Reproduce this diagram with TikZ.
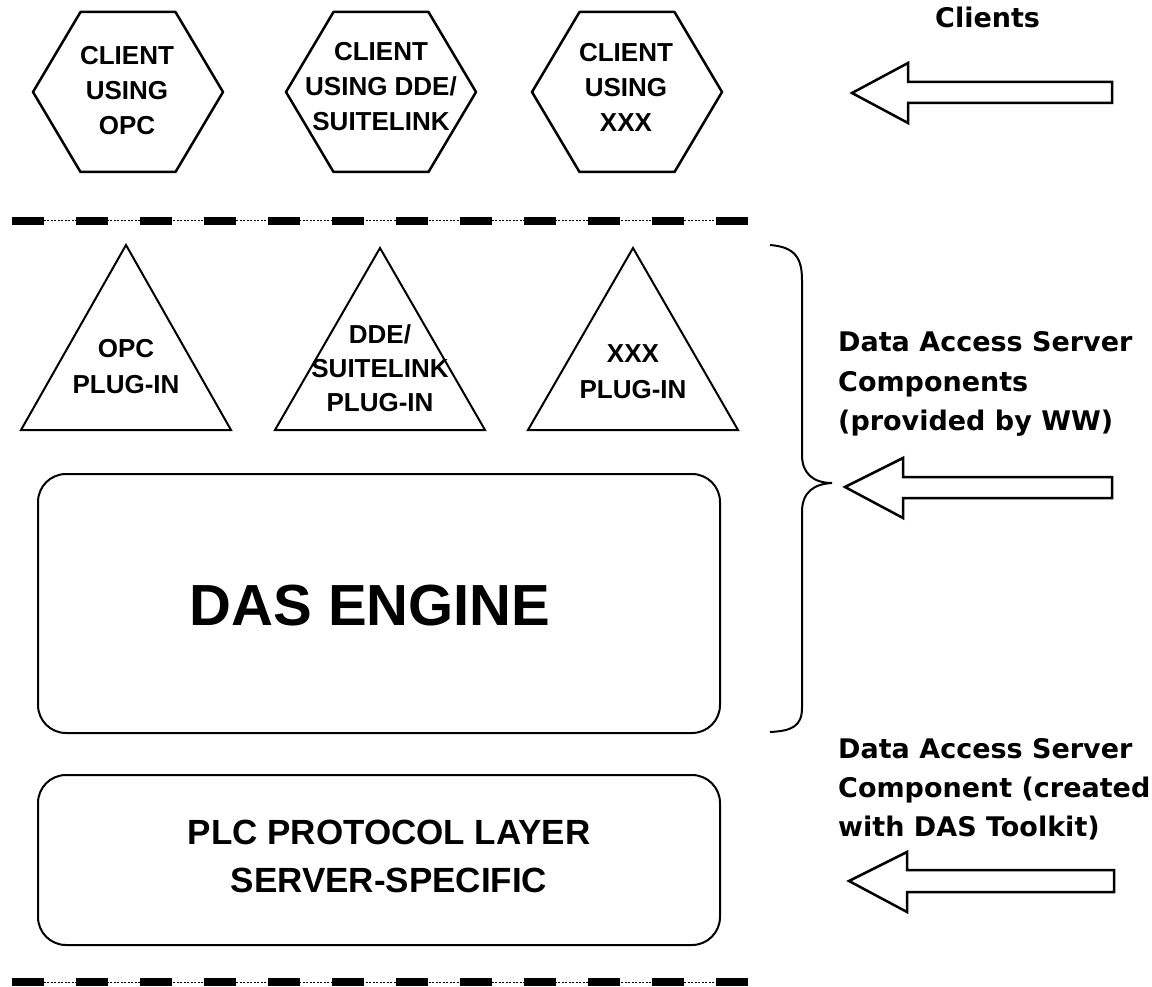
\documentclass[tikz,border=0pt]{standalone}
\usepackage{fontspec}
\setmainfont{Liberation Sans}
\newfontfamily\dvs{DejaVu Sans}
\begin{document}
\begin{tikzpicture}[x=1pt,y=-1pt,
  outline/.style={draw=black,line width=2.5pt,line join=round},
  thinout/.style={draw=black,line width=2pt},
  hexlbl/.style={font=\bfseries\fontsize{26}{35}\selectfont,align=center,inner sep=0pt},
  trilbl/.style={font=\bfseries\fontsize{26}{36}\selectfont,align=center,inner sep=0pt},
  biglbl/.style={font=\bfseries\fontsize{58}{60}\selectfont,inner sep=0pt},
  plclbl/.style={font=\bfseries\fontsize{35}{48}\selectfont,align=center,inner sep=0pt},
  side/.style={font=\dvs\bfseries\fontsize{27}{39}\selectfont,anchor=base west,inner sep=0pt},
  blockarrow/.style={draw=black,fill=white,line width=2.5pt,line join=miter},
  thickdash/.style={fill=black},
  thinline/.style={draw=black,line width=1pt,dash pattern=on 2pt off 1.5pt}]
\useasboundingbox (0,0) rectangle (1152,987);

% hexagons
\foreach \cx/\cy in {128/92,381/92,627/92}{
  \draw[outline] (\cx-95,\cy) -- (\cx-47.5,\cy-80) -- (\cx+47.5,\cy-80) -- (\cx+95,\cy) -- (\cx+47.5,\cy+80) -- (\cx-47.5,\cy+80) -- cycle;
}
\node[hexlbl] (c1) at (127,91) {CLIENT\\USING\\OPC};
\node[hexlbl] (c2) at (381,87) {CLIENT\\USING DDE/\\SUITELINK};
\node[hexlbl] (c3) at (626,87) {CLIENT\\USING\\XXX};

\node[side] (clients) at (935,28) {Clients};
\draw[blockarrow] (852,93) -- (908,63) -- (908,82) -- (1112,82) -- (1112,103) -- (908,103) -- (908,123) -- cycle;

% dashed separators
\foreach \yy in {221,982}{
  \draw[thinline] (12,\yy) -- (748,\yy);
  \foreach \i in {0,...,11}{
    \fill[thickdash] (12+64*\i,\yy-4) rectangle ++(32,8);
  }
}

% triangles
\foreach \ax/\ay in {126/245,380/248,633/248}{
  \draw[thinout,line join=miter] (\ax,\ay) -- (\ax+105,430) -- (\ax-105,430) -- cycle;
}
\node[trilbl] (p1) at (126,367) {OPC\\PLUG-IN};
\node[trilbl,font=\bfseries\fontsize{26}{34}\selectfont] (p2) at (380,368) {DDE/\\SUITELINK\\PLUG-IN};
\node[trilbl] (p3) at (633,372) {XXX\\PLUG-IN};

% DAS engine
\draw[thinout,rounded corners=28pt] (38,474) rectangle (720,733);
\node[biglbl] (das) at (370,606) {DAS ENGINE};

% PLC layer
\draw[thinout,rounded corners=28pt] (38,775) rectangle (720,945);
\node[plclbl] (plc) at (389,856) {PLC PROTOCOL LAYER\\SERVER-SPECIFIC};

% brace
\draw[line width=2pt] (770,245) .. controls (795,247) and (802,258) .. (802,280) -- (802,455)
  .. controls (802,474) and (814,483) .. (832,483)
  .. controls (814,484) and (802,492) .. (802,512) -- (802,708)
  .. controls (802,726) and (792,731) .. (770,732);

\node[side] (das1) at (838,352) {Data Access Server};
\node[side] (das2) at (838,391) {Components};
\node[side] (das3) at (838,430) {(provided by WW)};
\draw[blockarrow] (845,487) -- (903,458) -- (903,477) -- (1112,477) -- (1112,498) -- (903,498) -- (903,518) -- cycle;

\node[side] (tk1) at (838,758) {Data Access Server};
\node[side] (tk2) at (838,797) {Component (created};
\node[side] (tk3) at (838,836) {with DAS Toolkit)};
\draw[blockarrow] (849,881) -- (907,852) -- (907,870) -- (1114,870) -- (1114,892) -- (907,892) -- (907,912) -- cycle;
\end{tikzpicture}
\end{document}
